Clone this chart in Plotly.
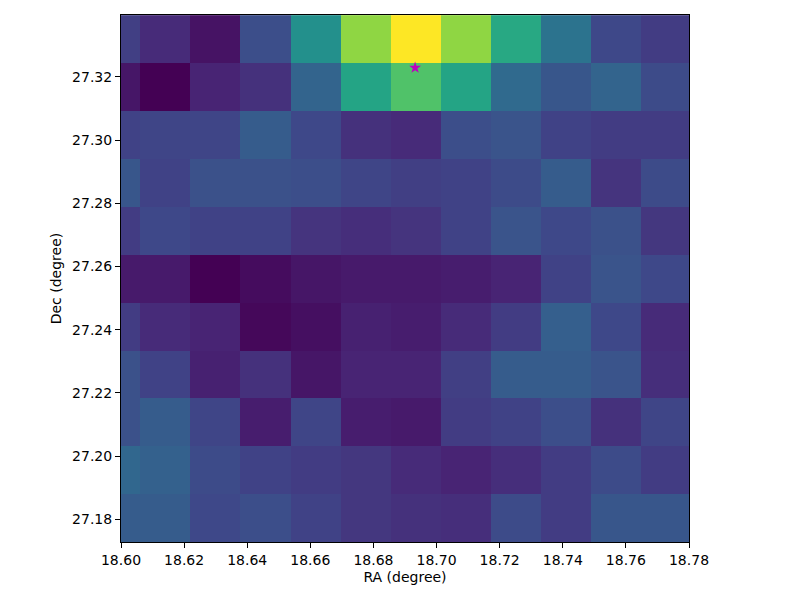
import plotly.graph_objects as go
import plotly.colors as pc

# Pixel centres (degrees)
ra_centers = [18.5982, 18.6141, 18.6300, 18.6458, 18.6617, 18.6776,
              18.6935, 18.7094, 18.7253, 18.7411, 18.7570, 18.7729]
dec_centers = [27.1804, 27.1956, 27.2108, 27.2259, 27.2411, 27.2562,
               27.2714, 27.2866, 27.3017, 27.3169, 27.3320]

# Normalised intensity, rows ordered from bottom (low Dec) to top
intensity = [
    [0.29, 0.29, 0.22, 0.24, 0.20, 0.16, 0.14, 0.13, 0.23, 0.18, 0.27, 0.27],
    [0.33, 0.31, 0.23, 0.20, 0.18, 0.16, 0.12, 0.10, 0.13, 0.18, 0.23, 0.18],
    [0.25, 0.29, 0.21, 0.08, 0.21, 0.08, 0.07, 0.18, 0.20, 0.24, 0.14, 0.21],
    [0.25, 0.20, 0.09, 0.14, 0.06, 0.10, 0.10, 0.19, 0.29, 0.29, 0.26, 0.13],
    [0.18, 0.12, 0.10, 0.02, 0.04, 0.09, 0.08, 0.12, 0.18, 0.30, 0.22, 0.12],
    [0.07, 0.07, 0.00, 0.03, 0.06, 0.07, 0.07, 0.08, 0.10, 0.20, 0.26, 0.22],
    [0.18, 0.22, 0.20, 0.20, 0.15, 0.13, 0.15, 0.20, 0.26, 0.22, 0.25, 0.16],
    [0.27, 0.20, 0.25, 0.25, 0.24, 0.21, 0.19, 0.20, 0.23, 0.29, 0.15, 0.23],
    [0.20, 0.21, 0.21, 0.29, 0.22, 0.14, 0.12, 0.24, 0.26, 0.20, 0.18, 0.18],
    [0.06, 0.00, 0.10, 0.14, 0.32, 0.58, 0.72, 0.58, 0.34, 0.27, 0.32, 0.23],
    [0.19, 0.12, 0.05, 0.24, 0.50, 0.83, 1.00, 0.83, 0.60, 0.38, 0.22, 0.18],
]

source_ra = [18.6932]
source_dec = [27.3229]

x_ticks = [18.60, 18.62, 18.64, 18.66, 18.68, 18.70, 18.72, 18.74, 18.76, 18.78]
y_ticks = [27.18, 27.20, 27.22, 27.24, 27.26, 27.28, 27.30, 27.32]

fig = go.Figure()
fig.add_trace(go.Heatmap(
    x=ra_centers, y=dec_centers, z=intensity,
    zmin=0, zmax=1, colorscale=pc.sequential.Viridis,
    showscale=False, hoverinfo="skip",
))
fig.add_trace(go.Scatter(
    x=source_ra, y=source_dec, mode="markers",
    marker=dict(symbol="star", size=9, color="#bf00bf"),
    showlegend=False,
))

axis_common = dict(
    showgrid=False, zeroline=False, ticks="outside", ticklen=5,
    tickwidth=1, tickcolor="black", showline=True, linecolor="black",
    linewidth=1, mirror=True, tickformat=".2f",
    tickfont=dict(family="DejaVu Sans", size=14, color="black"),
)
fig.update_layout(
    width=800, height=600,
    margin=dict(l=113, r=119, t=7, b=66),
    paper_bgcolor="white", plot_bgcolor="white",
    xaxis=dict(range=[18.60, 18.78], tickvals=x_ticks,
               title=dict(text="RA (degree)", standoff=5,
                          font=dict(family="DejaVu Sans", size=14, color="black")),
               **axis_common),
    yaxis=dict(range=[27.1728, 27.3396], tickvals=y_ticks,
               title=dict(text="Dec (degree)", standoff=7,
                          font=dict(family="DejaVu Sans", size=14, color="black")),
               **axis_common),
    showlegend=False,
)
fig.write_html("out.html")
